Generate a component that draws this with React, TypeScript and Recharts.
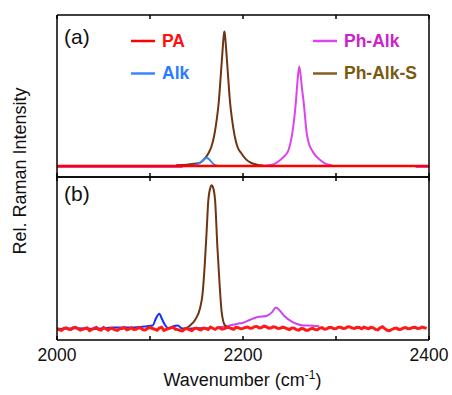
import React from "react";
import { LineChart, Line, XAxis, YAxis, Legend, Customized } from "recharts";

type Pt = [number, number];

const FONT = "'Liberation Sans', Arial, Helvetica, sans-serif";
const X_DOMAIN: [number, number] = [2000, 2400];
const Y_DOMAIN: [number, number] = [-0.08, 1.1];
const X_TICKS = [2000, 2100, 2200, 2300, 2400];
const X_TICK_LABELS: Record<number, string> = { 2000: "2000", 2200: "2200", 2400: "2400" };

// panel (a)
const A_PA: Pt[] = [[2000, 0], [2100, 0], [2200, 0], [2300, 0], [2400, 0]];
const A_ALK: Pt[] = [
  [2140, 0], [2147, 0.004], [2152, 0.015], [2156, 0.035], [2159, 0.052], [2161, 0.06],
  [2163, 0.052], [2166, 0.03], [2169, 0.01], [2172, 0.002], [2176, 0],
];
const A_PHALK: Pt[] = [
  [2000, -0.008], [2134, -0.008], [2136, 0], [2218, 0], [2229, 0.007], [2235, 0.02],
  [2240, 0.044], [2245, 0.075], [2249, 0.117], [2253, 0.24], [2255, 0.34], [2257, 0.48],
  [2259, 0.65], [2260.5, 0.725], [2262, 0.66], [2263.5, 0.56], [2265, 0.48], [2268.5, 0.24],
  [2271, 0.16], [2274, 0.117], [2278, 0.075], [2283, 0.044], [2288, 0.02], [2294, 0.007],
  [2298, 0], [2385, 0], [2387, -0.008], [2400, -0.008],
];
const A_PHALKS: Pt[] = [
  [2128, 0.006], [2140, 0.01], [2148, 0.016], [2154, 0.025], [2159, 0.055], [2163, 0.095],
  [2166, 0.14], [2169, 0.22], [2172, 0.35], [2174, 0.47], [2176, 0.65], [2178, 0.84],
  [2179.3, 0.95], [2180, 0.98], [2180.7, 0.95], [2182, 0.84], [2184, 0.65], [2186, 0.47],
  [2188, 0.35], [2191, 0.22], [2194, 0.14], [2198, 0.095], [2203, 0.05], [2209, 0.022],
  [2215, 0.01], [2222, 0.004],
];

// panel (b)
const B_ALK: Pt[] = [
  [2000, 0], [2020, 0.005], [2040, 0], [2060, 0.01], [2080, 0.01], [2097, 0.02],
  [2103, 0.025], [2106, 0.07], [2110, 0.11], [2113, 0.07], [2116, 0.03], [2120, 0.005],
  [2125, 0.02], [2130, 0.025], [2134, 0.005], [2140, 0], [2150, 0.005], [2162, 0.005],
];
const B_PHALK: Pt[] = [
  [2172, 0.01], [2180, 0.018], [2193, 0.036], [2200, 0.045], [2207, 0.065], [2215, 0.085],
  [2225, 0.094], [2231, 0.12], [2235.5, 0.155], [2240, 0.13], [2245, 0.09], [2252, 0.055],
  [2258, 0.036], [2265, 0.025], [2275, 0.024], [2282, 0.02],
];
const B_PHALKS: Pt[] = [
  [2136, 0], [2139.4, 0.007], [2143, 0.025], [2148.4, 0.065], [2153.8, 0.15], [2156.6, 0.26],
  [2159, 0.48], [2161, 0.72], [2162.7, 0.93], [2165.3, 1.03], [2166.3, 1.04], [2167.5, 1.03],
  [2170, 0.93], [2172.4, 0.6], [2174.5, 0.36], [2177.1, 0.12], [2180.6, 0.025], [2184.2, 0.01],
];
const B_PA: Pt[] = [
  [2000, 0.005], [2002.5, -0.006], [2005, -0.01], [2007.5, 0.004], [2010, 0.008], [2012.5, -0.002],
  [2015, -0.004], [2017.5, 0.009], [2020, 0.012], [2022.5, 0.001], [2025, -0.008], [2027.5, -0.003],
  [2030, 0.003], [2032.5, 0.007], [2035, -0.012], [2037.5, -0.004], [2040, 0.006], [2042.5, 0.011],
  [2045, -0.005], [2047.5, -0.009], [2050, 0.01], [2052.5, 0.002], [2055, -0.009], [2057.5, 0.005],
  [2060, 0.002], [2062.5, -0.007], [2065, -0.011], [2067.5, 0.003], [2070, 0.004], [2072.5, 0.01],
  [2075, -0.006], [2077.5, -0.001], [2080, 0.009], [2082.5, -0.004], [2085, -0.003], [2087.5, 0.008],
  [2090, 0.007], [2092.5, -0.006], [2095, -0.008], [2097.5, 0.004], [2100, 0.011], [2102.5, 0.003],
  [2105, -0.002], [2107.5, -0.009], [2110, 0.006], [2112.5, 0.012], [2115, -0.01], [2117.5, -0.003],
  [2120, 0.003], [2122.5, 0.008], [2125, 0.012], [2127.5, -0.002], [2130, -0.005], [2132.5, -0.011],
  [2135, -0.014], [2137.5, 0.001], [2140, 0.002], [2142.5, -0.006], [2145, -0.012], [2147.5, 0.003],
  [2150, 0.007], [2152.5, -0.002], [2155, -0.006], [2157.5, 0.006], [2160, 0.004], [2162.5, -0.004],
  [2165, 0.013], [2167.5, 0.005], [2170, -0.003], [2172.5, 0.009], [2175, 0.008], [2177.5, -0.001],
  [2180, 0.002], [2182.5, 0.01], [2185, 0.011], [2187.5, 0.003], [2190, -0.002], [2192.5, 0.012],
  [2195, 0.009], [2197.5, 0.001], [2200, 0.004], [2202.5, 0.011], [2205, 0.014], [2207.5, 0.005],
  [2210, 0.006], [2212.5, 0.017], [2215, 0.018], [2217.5, 0.008], [2220, 0.01], [2222.5, 0.02],
  [2225, 0.016], [2227.5, 0.006], [2230, 0.007], [2232.5, 0.015], [2235, 0.012], [2237.5, 0.003],
  [2240, 0.004], [2242.5, 0.013], [2245, 0.01], [2247.5, 0.001], [2250, -0.004], [2252.5, 0.007],
  [2255, 0.006], [2257.5, -0.005], [2260, -0.008], [2262.5, 0.003], [2265, 0.002], [2267.5, -0.009],
  [2270, -0.01], [2272.5, 0.001], [2275, 0.005], [2277.5, -0.004], [2280, -0.006], [2282.5, 0.006],
  [2285, 0.009], [2287.5, -0.002], [2290, 0.001], [2292.5, 0.01], [2295, 0.011], [2297.5, 0.002],
  [2300, 0.003], [2302.5, 0.013], [2305, 0.012], [2307.5, 0.004], [2310, 0.005], [2312.5, 0.016],
  [2315, 0.014], [2317.5, 0.006], [2320, 0.004], [2322.5, 0.012], [2325, 0.01], [2327.5, 0.002],
  [2330, 0.013], [2332.5, 0.007], [2335, 0.002], [2337.5, 0.011], [2340, 0.008], [2342.5, -0.003],
  [2345, -0.006], [2347.5, 0.008], [2350, 0.016], [2352.5, 0.002], [2355, -0.01], [2357.5, -0.012],
  [2360, -0.004], [2362.5, 0.004], [2365, 0.006], [2367.5, -0.003], [2370, -0.002], [2372.5, 0.008],
  [2375, 0.01], [2377.5, 0.001], [2380, 0.003], [2382.5, 0.011], [2385, 0.012], [2387.5, 0.004],
  [2390, 0.005], [2392.5, 0.013], [2395, 0.009], [2397.5, 0.004],
];

const LEGEND_NAMES = ["PA", "Alk", "Ph-Alk", "Ph-Alk-S"];
const LEGEND_LINE_COLORS = ["#ff0000", "#3a86ff", "#dd44ee", "#8b5a2b"];
const LEGEND_TEXT_COLORS = ["#ff1010", "#2b7bff", "#cc22cc", "#7b5a10"];

const rows = (pts: Pt[]) => pts.map(([x, y]) => ({ x, y }));

const AXIS = { stroke: "#000", strokeWidth: 1.5 };
const TICK_LEN = 4;

function legendBox() {
  // 2x2 legend, left column PA / Alk, right column Ph-Alk / Ph-Alk-S
  const cols = [131, 313];
  const lineY = [41, 73.5];
  const textY = [47, 79];
  return (
    <svg width={452} height={100} style={{ display: "block" }}>
      {LEGEND_NAMES.map((n, i) => {
        const c = i < 2 ? 0 : 1;
        const r = i % 2;
        const x = cols[c];
        return (
          <g key={n}>
            <line x1={x} x2={x + 24} y1={lineY[r]} y2={lineY[r]} stroke={LEGEND_LINE_COLORS[i]} strokeWidth={2.5} />
            <text x={x + 31} y={textY[r]} fill={LEGEND_TEXT_COLORS[i]} fontFamily={FONT} fontWeight="bold" fontSize={17.5}>
              {n}
            </text>
          </g>
        );
      })}
    </svg>
  );
}

// inward tick mark (and optional label) drawn at the coordinate recharts hands to the tick
function InTick(props: any) {
  const { x, y, payload, dir, labels } = props;
  const label = labels ? X_TICK_LABELS[payload.value] : undefined;
  return (
    <g>
      <line x1={x} x2={x} y1={y} y2={y + dir * TICK_LEN} stroke="#000" strokeWidth={1.5} />
      {label ? (
        <text x={x} y={y + 20.5} textAnchor="middle" fill="#111" fontSize={17.5} fontFamily={FONT}>
          {label}
        </text>
      ) : null}
    </g>
  );
}

// the box around a panel: axes of 1px so they still get drawn
function Frame({ labels }: { labels: boolean }) {
  return [
    <XAxis
      key="bot"
      xAxisId="bot"
      type="number"
      dataKey="x"
      domain={X_DOMAIN}
      ticks={X_TICKS}
      interval={0}
      allowDataOverflow
      height={labels ? 51 : 1}
      axisLine={AXIS}
      tickLine={false}
      tickSize={0}
      tickMargin={0}
      tick={(p: any) => <InTick {...p} dir={-1} labels={labels} />}
    />,
    <XAxis
      key="top"
      xAxisId="top"
      orientation="top"
      type="number"
      dataKey="x"
      domain={X_DOMAIN}
      ticks={X_TICKS}
      interval={0}
      allowDataOverflow
      height={1}
      axisLine={AXIS}
      tickLine={false}
      tickSize={0}
      tickMargin={0}
      tick={(p: any) => <InTick {...p} dir={1} labels={false} />}
    />,
    <YAxis key="l" yAxisId="l" type="number" domain={Y_DOMAIN} allowDataOverflow width={1} axisLine={AXIS} tickLine={false} tick={false} />,
    <YAxis key="r" yAxisId="r" orientation="right" type="number" domain={Y_DOMAIN} allowDataOverflow width={1} axisLine={AXIS} tickLine={false} tick={false} />,
  ];
}

function series(data: Pt[], color: string, width: number, curve: "monotone" | "linear" = "monotone") {
  return (
    <Line
      key={color + data.length}
      xAxisId="bot"
      yAxisId="l"
      data={rows(data)}
      dataKey="y"
      type={curve}
      stroke={color}
      strokeWidth={width}
      dot={false}
      activeDot={false}
      isAnimationActive={false}
    />
  );
}

export default function App() {
  return (
    <div style={{ position: "absolute", left: 0, top: 0, width: 452, height: 395, background: "#fff", fontFamily: FONT }}>
      <div style={{ position: "absolute", left: 0, top: 0 }}>
        <LineChart width={452} height={178} margin={{ top: 14, right: 22, bottom: 0, left: 56 }}>
          {Frame({ labels: false })}
          {series(A_PHALK, "#dd44ee", 2)}
          {series(A_PHALKS, "#6e3512", 2)}
          {series(A_ALK, "#3a86ff", 2)}
          {series(A_PA, "#ff0000", 2.5, "linear")}
          <Legend
            layout="horizontal"
            verticalAlign="middle"
            align="center"
            wrapperStyle={{ left: 0, top: 0, width: 452, height: 100, pointerEvents: "none" }}
            content={legendBox}
          />
          <Customized
            component={() => (
              <text x={64} y={44} fontFamily={FONT} fontSize={21} fill="#111">
                (a)
              </text>
            )}
          />
        </LineChart>
      </div>
      <div style={{ position: "absolute", left: 0, top: 176 }}>
        <LineChart width={452} height={219} margin={{ top: 0, right: 22, bottom: 4, left: 56 }}>
          {Frame({ labels: true })}
          {series(B_ALK, "#1030ff", 2)}
          {series(B_PHALK, "#cc44ee", 2)}
          {series(B_PHALKS, "#6e3512", 2)}
          {series(B_PA, "#ff1a1a", 3, "linear")}
          <Customized
            component={() => (
              <g>
                <text x={64} y={25} fontFamily={FONT} fontSize={21} fill="#111">
                  (b)
                </text>
                <text x={242.5} y={210} textAnchor="middle" fontFamily={FONT} fontSize={18} fill="#111">
                  <tspan>Wavenumber (cm</tspan>
                  <tspan fontSize={12} dy={-7}>-1</tspan>
                  <tspan dy={7}>)</tspan>
                </text>
              </g>
            )}
          />
        </LineChart>
      </div>
      <svg width={50} height={395} style={{ position: "absolute", left: 0, top: 0 }}>
        <text transform="rotate(-90)" x={-171} y={26} textAnchor="middle" fontFamily={FONT} fontSize={18} fill="#111">
          Rel. Raman Intensity
        </text>
      </svg>
    </div>
  );
}
